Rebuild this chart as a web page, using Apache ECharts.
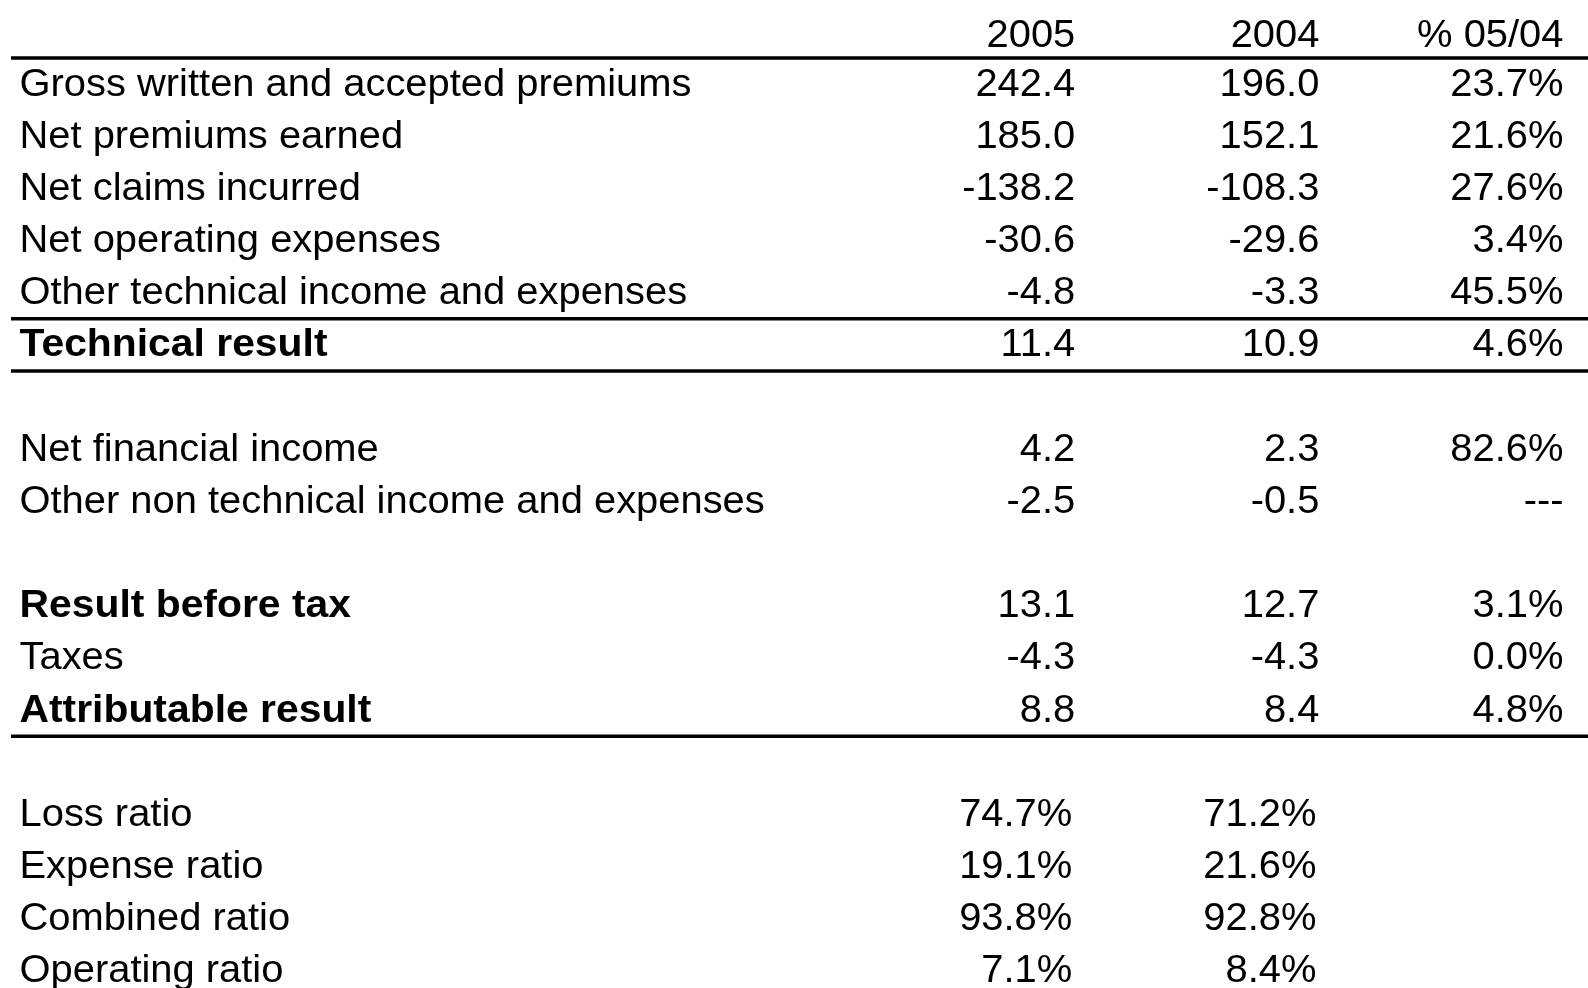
<!DOCTYPE html>
<html>
<head>
<meta charset="utf-8">
<style>
  html, body { margin: 0; padding: 0; background: #fff; }
  #chart { width: 1588px; height: 988px; }
</style>
<script src="https://cdn.jsdelivr.net/npm/echarts@6/dist/echarts.min.js"></script>
</head>
<body>
<div id="chart"></div>
<script>
const columnHeaders = ['2005', '2004', '% 05/04']
const rowLabels = [
  'Gross written and accepted premiums',
  'Net premiums earned',
  'Net claims incurred',
  'Net operating expenses',
  'Other technical income and expenses',
  'Technical result',
  '',
  'Net financial income',
  'Other non technical income and expenses',
  '',
  'Result before tax',
  'Taxes',
  'Attributable result',
  '',
  'Loss ratio',
  'Expense ratio',
  'Combined ratio',
  'Operating ratio',
]
const values2005 = ['242.4', '185.0', '-138.2', '-30.6', '-4.8', '11.4', '', '4.2', '-2.5', '', '13.1', '-4.3', '8.8', '', '74.7%', '19.1%', '93.8%', '7.1%']
const values2004 = ['196.0', '152.1', '-108.3', '-29.6', '-3.3', '10.9', '', '2.3', '-0.5', '', '12.7', '-4.3', '8.4', '', '71.2%', '21.6%', '92.8%', '8.4%']
const change0504 = ['23.7%', '21.6%', '27.6%', '3.4%', '45.5%', '4.6%', '', '82.6%', '---', '', '3.1%', '0.0%', '4.8%', '', '', '', '', '']
const boldRows = ['Technical result', 'Result before tax', 'Attributable result']
// a rule is drawn under each of these rows ('header' = the column header row)
const rulesBelow = ['header', 'Other technical income and expenses', 'Technical result', 'Attributable result']

// hidden axes: label column sits at X_MIN, number columns at 1..3; table row n sits at y = n
const X_MIN = -3.325
const FONT = "'Liberation Sans', Arial, sans-serif"

// table row 0 is the header, data rows follow
const cells = []
columnHeaders.forEach((h, c) => cells.push({ value: [c + 1, 0], text: h, col: c + 1, row: 0, bold: false }))
rowLabels.forEach((label, i) => {
  const row = i + 1
  const bold = boldRows.includes(label)
  if (label) cells.push({ value: [X_MIN, row], text: label, col: 0, row, bold })
  ;[values2005[i], values2004[i], change0504[i]].forEach((v, c) => {
    if (v) cells.push({ value: [c + 1, row], text: v, col: c + 1, row, bold: false })
  })
})
const ruleRows = rulesBelow.map(name => (name === 'header' ? 0 : rowLabels.indexOf(name) + 1))

const chart = echarts.init(document.getElementById('chart'))

chart.setOption({
  animation: false,
  grid: { left: 19.5, right: 24.5, top: 5.9, bottom: 17.1 },
  xAxis: { type: 'value', min: X_MIN, max: 3, show: false },
  yAxis: { type: 'value', min: -0.5, max: rowLabels.length, inverse: true, show: false },
  series: [
    {
      type: 'custom',
      clip: false,
      silent: true,
      data: cells.map(c => c.value),
      encode: { x: 0, y: 1 },
      renderItem(params, api) {
        const cell = cells[params.dataIndex]
        const pt = api.coord([api.value(0), api.value(1)])
        const isLabel = cell.col === 0
        let dx = 0
        // ratio percentages in the year columns sit a bit left of the numbers
        if (!isLabel && cell.col < 3 && cell.text.endsWith('%')) dx = -3
        const dy = cell.row === 0 ? 4.5 : 1
        return {
          type: 'text',
          x: pt[0] + dx,
          y: pt[1] + dy,
          scaleX: cell.bold ? 1.075 : 1.05,
          style: {
            text: cell.text,
            x: 0,
            y: 0,
            align: isLabel ? 'left' : 'right',
            verticalAlign: 'middle',
            fontFamily: FONT,
            fontSize: 38,
            fontWeight: cell.bold ? 'bold' : 'normal',
            fill: '#000',
          },
        }
      },
    },
    {
      type: 'custom',
      clip: false,
      silent: true,
      data: ruleRows.map(r => [X_MIN, r]),
      encode: { x: 0, y: 1 },
      renderItem(params, api) {
        const cs = params.coordSys
        const pt = api.coord([api.value(0), api.value(1)])
        const step = Math.abs(api.size([0, 1])[1])
        const y = pt[1] + step / 2
        return {
          type: 'line',
          shape: { x1: cs.x - 8.5, y1: y, x2: cs.x + cs.width + 25, y2: y },
          style: { stroke: '#000', lineWidth: 3.5 },
        }
      },
    },
  ],
})

window.addEventListener('resize', () => chart.resize())
</script>
</body>
</html>
